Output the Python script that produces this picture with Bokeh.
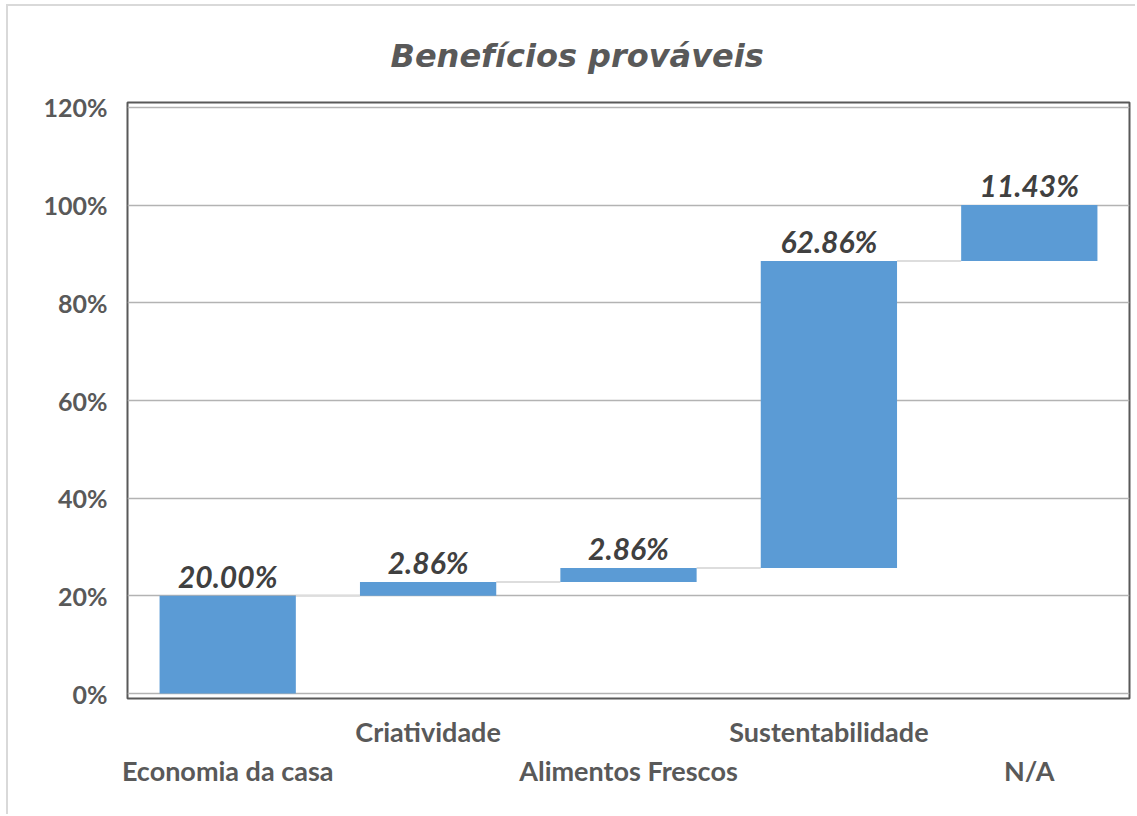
import numpy as np
from bokeh.plotting import figure
from bokeh.models import Range1d, FixedTicker, LinearAxis
from bokeh.core.properties import value
from bokeh.embed import file_html
from bokeh.resources import INLINE

# Waterfall data: each category adds its share on top of the running total
categories = ["Economia da casa", "Criatividade", "Alimentos Frescos", "Sustentabilidade", "N/A"]
increments = [20.00, 2.86, 2.86, 62.86, 11.43]
y_ticks = [0, 20, 40, 60, 80, 100, 120]
y_tick_labels = ["0%", "20%", "40%", "60%", "80%", "100%", "120%"]
title_text = "Benefícios prováveis"

FONT = "Lato"
TITLE_FONT = "DejaVu Sans"
AXIS_GRAY = "#595959"
LABEL_GRAY = "#404040"
BAR_BLUE = "#5B9BD5"

x = np.arange(len(categories))
tops = np.cumsum(increments)
bottoms = tops - np.array(increments)
value_labels = [f"{v:.2f}%" for v in increments]

p = figure(
    width=1129, height=810,
    x_range=Range1d(-0.5, len(categories) - 0.5),
    y_range=Range1d(-1.02, 121.02),
    x_axis_location=None,
    output_backend="svg", toolbar_location=None,
    min_border_left=119, min_border_right=8,
    min_border_top=95, min_border_bottom=118,
)
p.styles = {
    "margin-left": "6px", "margin-top": "4px",
    "border-left": "2px solid #d9d9d9", "border-top": "2px solid #d9d9d9",
}

# title
p.title.text = title_text
p.title.align = "left"
p.title.offset = 263
p.title.standoff = 56
p.title.text_font = TITLE_FONT
p.title.text_font_size = "32px"
p.title.text_font_style = "bold italic"
p.title.text_color = AXIS_GRAY

# frame and grid
p.outline_line_color = AXIS_GRAY
p.outline_line_width = 2
p.xgrid.visible = False
p.ygrid.ticker = FixedTicker(ticks=y_ticks)
p.ygrid.grid_line_color = "#b3b3b3"
p.ygrid.grid_line_width = 1.5
p.background_fill_color = "white"
p.border_fill_color = "white"

# y axis with percent labels
yax = p.yaxis[0]
yax.ticker = FixedTicker(ticks=y_ticks)
yax.major_label_overrides = dict(zip(y_ticks, y_tick_labels))
yax.axis_line_color = None
yax.major_tick_line_color = None
yax.minor_tick_line_color = None
yax.major_label_standoff = 14
yax.major_label_text_font = FONT
yax.major_label_text_font_size = "25px"
yax.major_label_text_font_style = "bold"
yax.major_label_text_color = AXIS_GRAY

# category labels on two staggered rows
def category_axis(idx, standoff):
    ax = LinearAxis(
        ticker=FixedTicker(ticks=[int(i) for i in idx]),
        major_label_overrides={int(i): categories[i] for i in idx},
    )
    ax.axis_line_color = None
    ax.major_tick_line_color = None
    ax.minor_tick_line_color = None
    ax.major_label_standoff = standoff
    ax.major_label_text_font = FONT
    ax.major_label_text_font_size = "27px"
    ax.major_label_text_font_style = "bold"
    ax.major_label_text_color = AXIS_GRAY
    return ax

p.add_layout(category_axis(x[1::2], 10), "below")
p.add_layout(category_axis(x[0::2], -3), "below")

# connectors between consecutive running totals
half = 0.34
p.segment(x0=x[:-1] + half, y0=tops[:-1], x1=x[1:] - half, y1=tops[:-1],
          line_color="#dddddd", line_width=2)

# waterfall bars
p.vbar(x=x, width=2 * half, bottom=bottoms, top=tops,
       fill_color=BAR_BLUE, line_color=None)

# value labels above each step
p.text(x=x, y=tops, text=value_labels,
       text_font=value(FONT), text_font_size="30px", text_font_style="bold italic",
       text_color=LABEL_GRAY, text_align="center", text_baseline="bottom", y_offset=-2)

open("out.html", "w").write(file_html(p, INLINE))
